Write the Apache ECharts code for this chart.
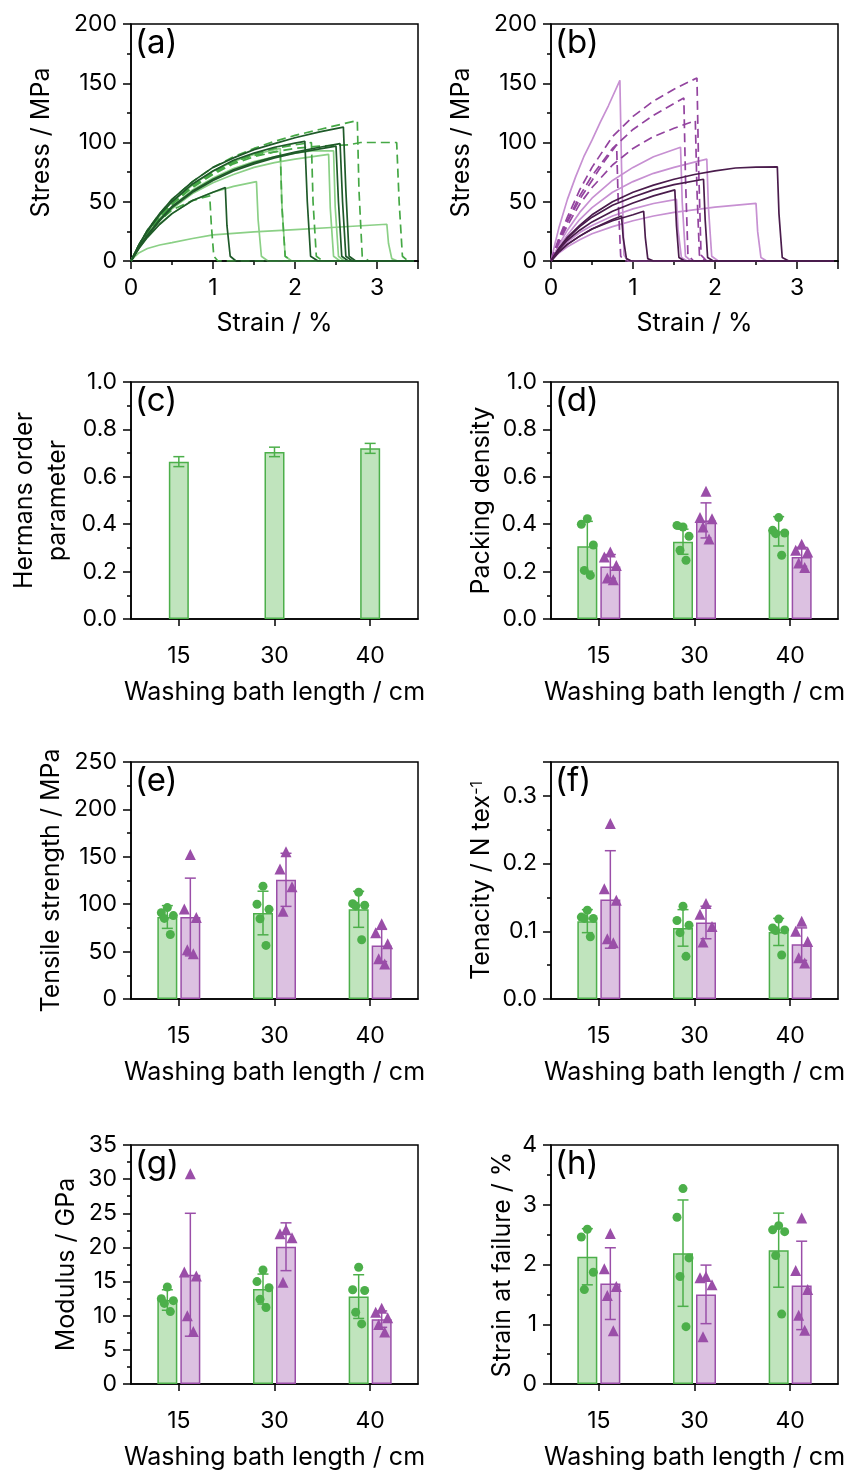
<!DOCTYPE html>
<html><head><meta charset="utf-8">
<script src="https://cdn.jsdelivr.net/npm/echarts@6/dist/echarts.min.js"></script>
<style>html,body{margin:0;padding:0;background:#fff}#c{width:849px;height:1479px}</style>
</head><body><div id="c"></div>
<script>
// ---------- (a) stress-strain curves, green ----------
const aDark1 = [[0,0],[0.1,14],[0.2,26],[0.35,40],[0.5,52],[0.75,67],[1,79],[1.25,87],[1.5,94],[1.75,99],[2,104],[2.3,109],[2.59,113],[2.62,60],[2.66,4],[2.74,0],[3.45,0]];
const aDark2 = [[0,0],[0.1,14],[0.2,25],[0.35,39],[0.5,50],[0.75,65],[1,76],[1.25,85],[1.5,91],[1.75,96],[2,99.5],[2.12,101],[2.15,50],[2.19,4],[2.28,0],[3.45,0]];
const aDark3 = [[0,0],[0.1,12],[0.2,22],[0.35,35],[0.5,46],[0.75,59],[1,69],[1.25,77],[1.5,83],[1.75,88],[2,92],[2.3,96],[2.55,99],[2.58,50],[2.62,4],[2.7,0],[3.45,0]];
const aDark4 = [[0,0],[0.1,11.5],[0.2,21],[0.35,34],[0.5,45],[0.75,58],[1,68],[1.25,76],[1.5,82],[1.75,87],[2,91],[2.25,94],[2.5,97],[2.53,50],[2.57,4],[2.65,0],[3.45,0]];
const aDark5 = [[0,0],[0.1,11],[0.2,20],[0.35,31],[0.5,40],[0.75,51],[1,58],[1.15,62],[1.17,30],[1.21,4],[1.28,0],[3.45,0]];
const aMid1 = [[0,0],[0.1,14],[0.2,26],[0.35,40],[0.5,52],[0.75,67],[1,79],[1.25,88],[1.5,95],[1.75,101],[2,106],[2.3,111],[2.6,116],[2.76,118.5],[2.78,60],[2.82,4],[2.9,0],[3.45,0]];
const aMid2 = [[0,0],[0.1,13],[0.2,24],[0.35,37],[0.5,48],[0.75,62],[1,73],[1.25,82],[1.5,88],[1.75,92],[2,95],[2.3,97],[2.65,98],[2.8,100],[3.24,100],[3.27,50],[3.31,4],[3.38,0],[3.45,0]];
const aMid3 = [[0,0],[0.1,12],[0.2,22],[0.35,34],[0.5,43],[0.75,51],[0.96,55],[0.98,30],[1.01,4],[1.06,0],[3.45,0]];
const aMid4 = [[0,0],[0.1,13.5],[0.2,25],[0.35,38.5],[0.5,50],[0.75,64],[1,75],[1.25,84],[1.5,89],[1.82,93],[1.84,46],[1.88,4],[1.96,0],[3.45,0]];
const aMid5 = [[0,0],[0.1,13],[0.2,24],[0.35,37],[0.5,48],[0.75,63],[1,74],[1.25,83],[1.5,90],[1.75,95],[2,98],[2.2,100],[2.22,50],[2.26,4],[2.34,0],[3.45,0]];
const aLight1 = [[0,0],[0.05,4],[0.1,7],[0.2,10.5],[0.35,13.5],[0.5,15.5],[0.75,19],[1,22],[1.5,24.5],[2,26.5],[2.5,28.5],[3.12,31],[3.14,15],[3.18,2],[3.25,0],[3.45,0]];
const aLight2 = [[0,0],[0.1,11],[0.2,20],[0.35,31],[0.5,40],[0.75,51],[1,58],[1.25,63],[1.53,67],[1.55,35],[1.59,4],[1.67,0],[3.45,0]];
const aLight3 = [[0,0],[0.1,14],[0.2,25],[0.35,38],[0.5,50],[0.75,64],[1,76],[1.25,84],[1.5,90],[1.82,95],[1.84,48],[1.88,4],[1.96,0],[3.45,0]];
const aLight4 = [[0,0],[0.1,12],[0.2,22],[0.35,34],[0.5,44],[0.75,57],[1,66],[1.25,73],[1.5,79],[1.75,83],[2,86],[2.41,90],[2.43,45],[2.47,4],[2.55,0],[3.45,0]];
const aLight5 = [[0,0],[0.1,12.5],[0.2,23],[0.35,36],[0.5,46],[0.75,60],[1,70],[1.25,78],[1.5,84],[1.75,88],[2,91],[2.2,93],[2.47,93],[2.49,46],[2.53,4],[2.6,0],[3.45,0]];

// ---------- (b) stress-strain curves, purple ----------
const bLight1 = [[0,0],[0.05,15],[0.1,29],[0.2,52],[0.3,71],[0.4,88],[0.5,102],[0.6,117],[0.7,131],[0.84,152.5],[0.86,80],[0.89,5],[0.94,0],[3.45,0]];
const bLight2 = [[0,0],[0.1,14],[0.2,26],[0.35,41],[0.5,53],[0.75,68],[1,79],[1.25,88],[1.58,96],[1.6,50],[1.64,4],[1.71,0],[3.45,0]];
const bLight3 = [[0,0],[0.1,12],[0.2,22],[0.35,35],[0.5,45],[0.75,58],[1,67],[1.25,74],[1.5,79],[1.75,83.5],[1.9,86],[1.92,45],[1.96,4],[2.04,0],[3.45,0]];
const bLight4 = [[0,0],[0.1,7],[0.2,12],[0.35,18],[0.5,23],[0.75,29],[1,34],[1.25,38],[1.5,41],[2,45.5],[2.5,48.6],[2.52,25],[2.56,3],[2.63,0],[3.45,0]];
const bLight5 = [[0,0],[0.1,9],[0.2,16],[0.35,24],[0.5,30],[0.75,38],[1,44],[1.25,48.5],[1.53,52],[1.55,26],[1.59,3],[1.66,0],[3.45,0]];
const bMid1 = [[0,0],[0.1,20],[0.2,37],[0.35,60],[0.5,79],[0.75,105],[1,122],[1.25,135],[1.5,145],[1.78,154.5],[1.8,80],[1.83,5],[1.9,0],[3.45,0]];
const bMid2 = [[0,0],[0.1,18],[0.2,34],[0.35,55],[0.5,72],[0.75,95],[1,111],[1.25,123],[1.62,137.6],[1.64,70],[1.67,5],[1.74,0],[3.45,0]];
const bMid3 = [[0,0],[0.1,16],[0.2,30],[0.35,48],[0.5,62],[0.75,81],[1,95],[1.25,105],[1.5,112],[1.76,118.5],[1.78,60],[1.81,5],[1.88,0],[3.45,0]];
const bMid4 = [[0,0],[0.1,18],[0.2,33],[0.35,52],[0.5,68],[0.65,84],[0.8,98],[0.82,50],[0.85,4],[0.9,0],[3.45,0]];
const bDark1 = [[0,0],[0.1,11],[0.2,20],[0.35,30],[0.5,39],[0.75,50],[1,58],[1.25,64],[1.5,69],[1.75,73],[2,76],[2.25,78.5],[2.5,79.3],[2.76,79.5],[2.78,40],[2.82,3],[2.9,0],[3.45,0]];
const bDark2 = [[0,0],[0.1,11],[0.2,19],[0.35,29],[0.5,37],[0.75,47],[1,54],[1.25,60],[1.5,64.5],[1.86,69],[1.88,35],[1.91,3],[1.98,0],[3.45,0]];
const bDark3 = [[0,0],[0.1,10],[0.2,17.5],[0.35,26],[0.5,33],[0.75,42],[1,49],[1.25,55],[1.51,60],[1.53,30],[1.56,3],[1.63,0],[3.45,0]];
const bDark4 = [[0,0],[0.1,8],[0.2,14],[0.35,21],[0.5,27],[0.75,34],[1,39],[1.13,42],[1.15,20],[1.18,2],[1.25,0],[3.45,0]];
const bDark5 = [[0,0],[0.1,8],[0.2,14],[0.35,21],[0.5,27],[0.75,35],[0.86,38],[0.88,20],[0.92,2],[0.98,0],[3.45,0]];

// ---------- bar panels ----------
const categories = ['15', '30', '40'];
// (c) Hermans order parameter
const hermansMean = [0.664, 0.705, 0.720];
const hermansErr = [0.021, 0.020, 0.021];
// (d) packing density
const packGreenMean = [0.307, 0.326, 0.370];
const packGreenErr = [0.105, 0.053, 0.062];
const packGreenPts = [[0.423,0.400,0.312,0.205,0.184],[0.388,0.395,0.349,0.290,0.248],[0.428,0.374,0.363,0.360,0.269]];
const packPurpleMean = [0.222, 0.416, 0.262];
const packPurpleErr = [0.050, 0.074, 0.040];
const packPurplePts = [[0.283,0.262,0.226,0.173,0.166],[0.539,0.428,0.423,0.388,0.338],[0.315,0.290,0.283,0.236,0.217]];
// (e) tensile strength
const tsGreenMean = [86.5, 90.7, 94.6];
const tsGreenErr = [12, 23, 19];
const tsGreenPts = [[96.4,91,88,85,68],[119,100,94.6,84.7,56.5],[112.6,100.6,98.9,98.2,62.5]];
const tsPurpleMean = [86.5, 125.7, 56.5];
const tsPurpleErr = [41, 28, 17];
const tsPurplePts = [[152.5,95,86,52,47.7],[155.4,137,118.3,92.5],[79.4,70,58.3,42.4,37]];
// (f) tenacity
const tenGreenMean = [0.115, 0.105, 0.099];
const tenGreenErr = [0.017, 0.027, 0.020];
const tenGreenPts = [[0.131,0.121,0.119,0.119,0.092],[0.137,0.116,0.109,0.098,0.063],[0.118,0.105,0.102,0.101,0.065]];
const tenPurpleMean = [0.147, 0.113, 0.081];
const tenPurpleErr = [0.072, 0.024, 0.024];
const tenPurplePts = [[0.259,0.163,0.146,0.089,0.083],[0.141,0.125,0.107,0.084],[0.115,0.100,0.085,0.061,0.053]];
// (g) modulus
const modGreenMean = [12.3, 13.9, 12.8];
const modGreenErr = [1.5, 2.2, 3.2];
const modGreenPts = [[14.2,12.5,12.2,11.8,10.6],[16.7,15,14.1,12.4,11.2],[17.1,13.8,13.7,10.5,8.8]];
const modPurpleMean = [16.0, 20.1, 9.5];
const modPurpleErr = [9, 3.5, 1.2];
const modPurplePts = [[30.8,16.4,15.8,10,7.7],[22.6,22,21.4,14.9],[11.1,10.5,9.7,8.7,7.6]];
// (h) strain at failure
const sfGreenMean = [2.13, 2.19, 2.24];
const sfGreenErr = [0.47, 0.89, 0.62];
const sfGreenPts = [[2.59,2.46,1.87,1.58],[3.27,2.79,2.11,1.80,0.96],[2.65,2.58,2.55,2.15,1.17]];
const sfPurpleMean = [1.68, 1.50, 1.65];
const sfPurpleErr = [0.60, 0.49, 0.74];
const sfPurplePts = [[2.52,1.93,1.63,1.48,0.89],[1.80,1.78,1.66,0.79],[2.78,1.90,1.58,1.15,0.90]];

// ---------- styles ----------
const FONT = 'Inter';
const TICK_FS = 23, NAME_FS = 25;
const C = {
  gDark:'#1f5a29', gMid:'#45a845', gLight:'#8bd086',
  pDark:'#4a1c4c', pMid:'#93449f', pLight:'#c790d2',
  gFill:'#c0e4bd', gEdge:'#4caf4a', pFill:'#dcc1e1', pEdge:'#9a4ea8'
};
const jitter = [0, -6, 6, -3, 3];
const grids = [
  {left:131, top:24, width:287, height:237},
  {left:551, top:24, width:287, height:237},
  {left:131, top:382, width:287, height:237},
  {left:551, top:382, width:287, height:237},
  {left:131, top:762, width:287, height:237},
  {left:551, top:762, width:287, height:237},
  {left:131, top:1145, width:287, height:239},
  {left:551, top:1145, width:287, height:239}
].map(g => Object.assign({show:true, borderColor:'#000', borderWidth:1.5, backgroundColor:'transparent'}, g));

function axisBase(extra) {
  return Object.assign({
    gridIndex:0, nameLocation:'middle',
    axisLine:{show:true, onZero:false, lineStyle:{color:'#000', width:1.5}},
    axisTick:{show:true, inside:false, length:8, lineStyle:{color:'#000', width:1.5}},
    minorTick:{show:true, splitNumber:2, length:4, lineStyle:{color:'#000', width:1.5}},
    splitLine:{show:false}, minorSplitLine:{show:false},
    nameTextStyle:{color:'#000', fontSize:NAME_FS, fontFamily:FONT}
  }, extra);
}
function catAxis(gi) {
  return axisBase({gridIndex:gi, type:'category', data:categories,
    axisTick:{show:true, alignWithLabel:true, length:7, lineStyle:{color:'#000', width:1.5}},
    minorTick:{show:false},
    axisLabel:{color:'#000', fontSize:TICK_FS, fontFamily:FONT, margin:26},
    name:'Washing bath length / cm', nameGap:61});
}
function valAxis(gi, min, max, interval, name, gap, dec, showMax, margin, extra) {
  return axisBase(Object.assign({gridIndex:gi, type:'value', min, max, interval, name, nameGap:gap,
    axisLabel:{color:'#000', fontSize:TICK_FS, fontFamily:FONT, margin:margin, showMaxLabel:showMax,
      formatter: v => dec ? v.toFixed(dec) : String(v)}}, extra || {}));
}

const xAxes = [
  valAxis(0, 0, 3.5, 1, 'Strain / %', 50, 0, false, 16),
  valAxis(1, 0, 3.5, 1, 'Strain / %', 50, 0, false, 16),
  catAxis(2), catAxis(3), catAxis(4), catAxis(5), catAxis(6), catAxis(7)
];
const yAxes = [
  valAxis(0, 0, 200, 50, 'Stress / MPa', 77, 0, true, 14),
  valAxis(1, 0, 200, 50, 'Stress / MPa', 77, 0, true, 14),
  valAxis(2, 0, 1, 0.2, 'Hermans order\nparameter', 57, 1, true, 14, {nameTextStyle:{color:'#000', fontSize:NAME_FS, fontFamily:FONT, lineHeight:33}}),
  valAxis(3, 0, 1, 0.2, 'Packing density', 57, 1, true, 14),
  valAxis(4, 0, 250, 50, 'Tensile strength / MPa', 67, 0, true, 14),
  valAxis(5, 0, 0.35, 0.1, 'Tenacity / N tex{sup|-1}', 57, 1, false, 14, {nameTextStyle:{color:'#000', fontSize:NAME_FS, fontFamily:FONT,
      rich:{sup:{fontSize:16, fontFamily:FONT, color:'#000', verticalAlign:'top', lineHeight:25}}}}),
  valAxis(6, 0, 35, 5, 'Modulus / GPa', 52, 0, true, 14),
  valAxis(7, 0, 4, 1, 'Strain at failure / %', 36, 0, true, 14)
];

const series = [];
function curve(ai, data, color, dashed) {
  series.push({type:'line', xAxisIndex:ai, yAxisIndex:ai, data, symbol:'none', showSymbol:false, silent:true,
    lineStyle:{color, width:1.7, type: dashed ? [9,5] : 'solid'}, z:2});
}
[aLight1,aLight2,aLight3,aLight4,aLight5].forEach(d => curve(0, d, C.gLight, false));
[aMid1,aMid2,aMid3,aMid4,aMid5].forEach(d => curve(0, d, C.gMid, true));
[aDark1,aDark2,aDark3,aDark4,aDark5].forEach(d => curve(0, d, C.gDark, false));
[bLight1,bLight2,bLight3,bLight4,bLight5].forEach(d => curve(1, d, C.pLight, false));
[bMid1,bMid2,bMid3,bMid4].forEach(d => curve(1, d, C.pMid, true));
[bDark1,bDark2,bDark3,bDark4,bDark5].forEach(d => curve(1, d, C.pDark, false));

function bars(ai, means, fill, edge, withGap) {
  const s = {type:'bar', xAxisIndex:ai, yAxisIndex:ai, data:means, barWidth:20, z:2, silent:true,
    itemStyle:{color:fill, borderColor:edge, borderWidth:1.5}};
  if (withGap) s.barGap = '15%';
  series.push(s);
}
function errs(ai, means, e, offset, color) {
  series.push({type:'custom', xAxisIndex:ai, yAxisIndex:ai, z:3, silent:true,
    data: means.map((m, i) => [i, m, e[i]]),
    renderItem: (params, api) => {
      const i = api.value(0), m = api.value(1), d = api.value(2);
      const t = api.coord([i, m + d]), b = api.coord([i, m - d]);
      const x = t[0] + offset, st = {stroke:color, lineWidth:1.5};
      return {type:'group', children:[
        {type:'line', shape:{x1:x, y1:t[1], x2:x, y2:b[1]}, style:st},
        {type:'line', shape:{x1:x-5.5, y1:t[1], x2:x+5.5, y2:t[1]}, style:st},
        {type:'line', shape:{x1:x-5.5, y1:b[1], x2:x+5.5, y2:b[1]}, style:st}
      ]};
    }});
}
function pts(ai, arr, offset, color, symbol, size) {
  const data = [];
  arr.forEach((vals, ci) => vals.forEach((v, k) => data.push({value:[ci, v], symbolOffset:[offset + jitter[k % jitter.length], 0]})));
  series.push({type:'scatter', xAxisIndex:ai, yAxisIndex:ai, data, symbol, symbolSize:size, z:4, silent:true,
    itemStyle:{color, opacity:1}});
}
// (c)
bars(2, hermansMean, C.gFill, C.gEdge, false);
errs(2, hermansMean, hermansErr, 0, C.gEdge);
// (d)-(h)
const panels = [
  [3, packGreenMean, packGreenErr, packGreenPts, packPurpleMean, packPurpleErr, packPurplePts],
  [4, tsGreenMean, tsGreenErr, tsGreenPts, tsPurpleMean, tsPurpleErr, tsPurplePts],
  [5, tenGreenMean, tenGreenErr, tenGreenPts, tenPurpleMean, tenPurpleErr, tenPurplePts],
  [6, modGreenMean, modGreenErr, modGreenPts, modPurpleMean, modPurpleErr, modPurplePts],
  [7, sfGreenMean, sfGreenErr, sfGreenPts, sfPurpleMean, sfPurpleErr, sfPurplePts]
];
panels.forEach(([ai, gm, ge, gp, pm, pe, pp]) => {
  bars(ai, gm, C.gFill, C.gEdge, true);
  bars(ai, pm, C.pFill, C.pEdge, true);
  errs(ai, gm, ge, -11.5, C.gEdge);
  errs(ai, pm, pe, 11.5, C.pEdge);
  pts(ai, gp, -11.5, C.gEdge, 'circle', 9);
  pts(ai, pp, 11.5, C.pEdge, 'triangle', 11);
});

const panelLabels = [['(a)',135,27],['(b)',555,27],['(c)',135,385],['(d)',555,385],['(e)',135,765],['(f)',555,765],['(g)',135,1148],['(h)',555,1148]];
const graphic = panelLabels.map(([t, x, y]) => ({type:'text', left:x, top:y, z:10, silent:true,
  style:{text:t, fontSize:33, fontFamily:FONT, fill:'#000'}}));

const chart = echarts.init(document.getElementById('c'), null, {renderer:'canvas'});
chart.setOption({
  animation:false, backgroundColor:'#fff',
  grid:grids, xAxis:xAxes, yAxis:yAxes, series, graphic
});
</script></body></html>
